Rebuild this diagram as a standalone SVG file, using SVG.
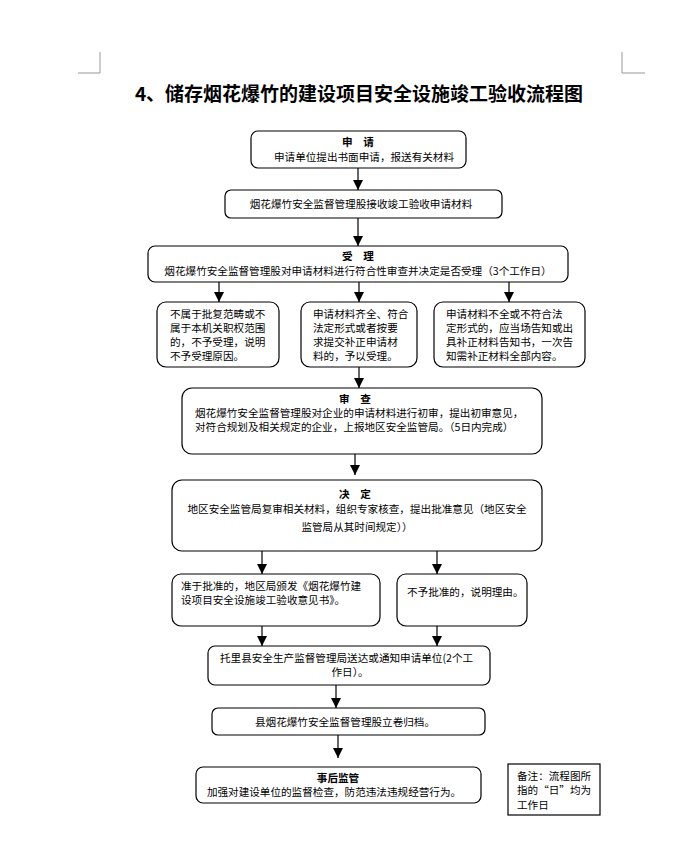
<svg xmlns="http://www.w3.org/2000/svg" width="700" height="851" viewBox="0 0 700 851">
<style>
.bx{fill:#fff;stroke:#000;stroke-width:1.2}
.t{font-family:"Noto Sans CJK SC","Liberation Sans",sans-serif;font-size:10.6px;fill:#000}
.b{font-weight:bold}
.c{text-anchor:middle}
.ln{stroke:#999;stroke-width:1;fill:none}
.cn{stroke:#000;stroke-width:1.2;fill:none;marker-end:url(#ah)}
</style>
<defs>
<marker id="ah" markerUnits="userSpaceOnUse" markerWidth="10" markerHeight="10" viewBox="0 0 10 10" refX="10" refY="5" orient="auto">
<path d="M0,0 L10,5 L0,10 z" fill="#000"/>
</marker>
</defs>
<rect width="700" height="851" fill="#fff"/>
<g id="page-marks">
<path class="ln" d="M100,52 V73 H78"/>
<path class="ln" d="M622,52 V73 H645"/>
</g>
<text id="title" x="359" y="101" class="t b c" style="font-size:19px">4、储存烟花爆竹的建设项目安全设施竣工验收流程图</text>

<g id="n1">
<rect class="bx" x="251" y="131" width="215" height="37" rx="7"/>
<text class="t c"><tspan class="b" x="358" y="146">申　请</tspan><tspan x="364" y="161">申请单位提出书面申请，报送有关材料</tspan></text>
</g>
<g id="n2">
<rect class="bx" x="225" y="190" width="277" height="28" rx="6"/>
<text class="t c" x="361" y="208">烟花爆竹安全监督管理股接收竣工验收申请材料</text>
</g>
<g id="n3">
<rect class="bx" x="148" y="246" width="420" height="36" rx="7"/>
<text class="t c"><tspan class="b" x="358" y="260">受　理</tspan><tspan x="358" y="275">烟花爆竹安全监督管理股对申请材料进行符合性审查并决定是否受理（3个工作日）</tspan></text>
</g>
<g id="n4a">
<rect class="bx" x="157" y="302" width="122" height="65" rx="9"/>
<text class="t"><tspan x="170" y="318">不属于批复范畴或不</tspan><tspan x="170" y="332">属于本机关职权范围</tspan><tspan x="170" y="346">的，不予受理，说明</tspan><tspan x="170" y="360">不予受理原因。</tspan></text>
</g>
<g id="n4b">
<rect class="bx" x="301" y="302" width="116" height="65" rx="9"/>
<text class="t"><tspan x="313" y="318">申请材料齐全、符合</tspan><tspan x="313" y="332">法定形式或者按要</tspan><tspan x="313" y="346">求提交补正申请材</tspan><tspan x="313" y="360">料的，予以受理。</tspan></text>
</g>
<g id="n4c">
<rect class="bx" x="434" y="302" width="151" height="65" rx="9"/>
<text class="t"><tspan x="446" y="318">申请材料不全或不符合法</tspan><tspan x="446" y="332">定形式的，应当场告知或出</tspan><tspan x="446" y="346">具补正材料告知书，一次告</tspan><tspan x="446" y="360">知需补正材料全部内容。</tspan></text>
</g>
<g id="n5">
<rect class="bx" x="182" y="388" width="360" height="66" rx="10"/>
<text class="t"><tspan class="b c" x="355" y="403">审　查</tspan><tspan x="195" y="417">烟花爆竹安全监督管理股对企业的申请材料进行初审，提出初审意见，</tspan><tspan x="195" y="431">对符合规划及相关规定的企业，上报地区安全监管局。（5日内完成）</tspan></text>
</g>
<g id="n6">
<rect class="bx" x="172" y="480" width="370" height="71" rx="10"/>
<text class="t c"><tspan class="b" x="355" y="498">决　定</tspan><tspan x="357" y="513">地区安全监管局复审相关材料，组织专家核查，提出批准意见（地区安全</tspan><tspan x="357" y="531">监管局从其时间规定））</tspan></text>
</g>
<g id="n7a">
<rect class="bx" x="172" y="574" width="208" height="52" rx="9"/>
<text class="t"><tspan x="181" y="590">准于批准的，地区局颁发《烟花爆竹建</tspan><tspan x="181" y="604">设项目安全设施竣工验收意见书》。</tspan></text>
</g>
<g id="n7b">
<rect class="bx" x="397" y="574" width="130" height="52" rx="9"/>
<text class="t" x="407" y="596">不予批准的，说明理由。</text>
</g>
<g id="n8">
<rect class="bx" x="208" y="646" width="282" height="39" rx="7"/>
<text class="t"><tspan x="220" y="662">托里县安全生产监督管理局送达或通知申请单位(2个工</tspan><tspan class="c" x="350" y="676">作日）。</tspan></text>
</g>
<g id="n9">
<rect class="bx" x="212" y="708" width="273" height="27" rx="6"/>
<text class="t c" x="345" y="726">县烟花爆竹安全监督管理股立卷归档。</text>
</g>
<g id="n10">
<rect class="bx" x="196" y="767" width="285" height="36" rx="7"/>
<text class="t c"><tspan class="b" x="338" y="782">事后监管</tspan><tspan x="334" y="796">加强对建设单位的监督检查，防范违法违规经营行为。</tspan></text>
</g>
<g id="note">
<rect x="508" y="764" width="92" height="51" fill="#fff" stroke="#000" stroke-width="1.2"/>
<text class="t"><tspan x="517" y="780">备注：流程图所</tspan><tspan x="517" y="794">指的“日”均为</tspan><tspan x="517" y="809">工作日</tspan></text>
</g>

<g id="connectors">
<line class="cn" x1="358" y1="168" x2="358" y2="190"/>
<line class="cn" x1="358" y1="218" x2="358" y2="246"/>
<line class="cn" x1="219" y1="282" x2="219" y2="302"/>
<line class="cn" x1="359" y1="282" x2="359" y2="302"/>
<line class="cn" x1="509" y1="282" x2="509" y2="302"/>
<line class="cn" x1="359" y1="367" x2="359" y2="388"/>
<line class="cn" x1="355" y1="454" x2="355" y2="475"/>
<line class="cn" x1="262" y1="551" x2="262" y2="574"/>
<line class="cn" x1="437" y1="551" x2="437" y2="574"/>
<line class="cn" x1="262" y1="626" x2="262" y2="646"/>
<line class="cn" x1="437" y1="626" x2="437" y2="646"/>
<line class="cn" x1="336" y1="685" x2="336" y2="708"/>
<line class="cn" x1="338" y1="735" x2="338" y2="758"/>
</g>
</svg>
